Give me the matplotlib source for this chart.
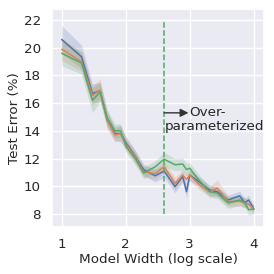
import matplotlib
matplotlib.use("Agg")
import matplotlib.pyplot as plt
import seaborn as sns
import numpy as np

x = [1.0, 1.31, 1.48, 1.60, 1.71, 1.83, 1.92, 2.01, 2.15, 2.28, 2.46, 2.60, 2.77, 2.89, 2.95, 3.0, 3.15, 3.31, 3.43, 3.60, 3.78, 3.86, 3.92, 4.0]
blue = [20.6, 19.35, 16.7, 16.9, 14.8, 13.8, 13.8, 13.1, 12.15, 11.2, 10.75, 11.1, 9.97, 10.7, 9.6, 10.8, 10.3, 9.73, 9.6, 9.0, 9.3, 8.8, 9.0, 8.35]
orange = [19.9, 19.0, 16.55, 16.95, 14.8, 13.7, 13.8, 13.0, 12.1, 11.05, 10.9, 11.4, 10.2, 10.8, 10.5, 10.8, 10.1, 9.6, 9.86, 8.9, 8.9, 8.8, 8.7, 8.35]
green = [19.6, 18.9, 16.2, 16.8, 14.95, 14.0, 14.0, 12.85, 12.0, 10.95, 11.4, 11.95, 11.55, 11.6, 11.2, 11.3, 10.4, 9.6, 9.5, 8.8, 9.0, 8.8, 8.3, 8.35]
blue_sd = [1.0, 0.85, 0.7, 0.6, 0.55, 0.5, 0.6, 0.45, 0.45, 0.4, 0.45, 0.45, 0.45, 0.4, 0.45, 0.4, 0.35, 0.35, 0.35, 0.35, 0.35, 0.35, 0.35, 0.3]
orange_sd = [0.8, 0.7, 0.7, 0.8, 0.6, 0.5, 0.5, 0.45, 0.45, 0.4, 0.4, 0.4, 0.45, 0.4, 0.4, 0.4, 0.35, 0.35, 0.6, 0.35, 0.35, 0.35, 0.35, 0.3]
green_sd = [0.9, 0.8, 0.9, 0.7, 0.6, 0.5, 0.5, 0.45, 0.45, 0.4, 0.45, 0.5, 0.45, 0.45, 0.45, 0.4, 0.4, 0.4, 0.4, 0.4, 0.4, 0.35, 0.4, 0.35]
threshold = 2.6
xticks = [1, 2, 3, 4]
yticks = [8, 10, 12, 14, 16, 18, 20, 22]

sns.set_theme(style="darkgrid")
plt.rcParams['font.family'] = ['DejaVu Sans']

fig = plt.figure(figsize=(2.74, 2.74), dpi=100)
ax = fig.add_axes([0.19, 0.1715, 0.7735, 0.7955])

pal = sns.color_palette("deep")
xa = np.array(x)
for m, s, c in [(blue, blue_sd, pal[0]), (orange, orange_sd, pal[1]), (green, green_sd, pal[2])]:
    m = np.array(m); s = np.array(s)
    ax.fill_between(xa, m - s, m + s, color=c, alpha=0.2, linewidth=0)
    ax.plot(xa, m, color=c, linewidth=1.1)

ax.vlines(threshold, 8, 22, colors=pal[2], linestyles='--', linewidth=1.1)
ax.annotate('', xy=(threshold + 0.38, 15.3), xytext=(threshold, 15.3),
            arrowprops=dict(arrowstyle='-|>', color='#333333', lw=1.0, shrinkA=0, shrinkB=0))
fs = 9.7
ax.text(threshold + 0.4, 15.3, 'Over-', fontsize=fs, va='center', ha='left', color='#262626')
ax.text(threshold + 0.01, 14.3, 'parameterized', fontsize=fs, va='center', ha='left', color='#262626')

ax.set_xticks(xticks)
ax.set_yticks(yticks)
ax.set_xlim(0.85, 4.16)
ax.set_ylim(7.05, 22.8)
ax.tick_params(labelsize=fs, pad=2)
ax.set_xlabel('Model Width (log scale)', fontsize=fs, labelpad=1)
ax.set_ylabel('Test Error (%)', fontsize=fs, labelpad=2)

fig.savefig('out.png', dpi=100)
